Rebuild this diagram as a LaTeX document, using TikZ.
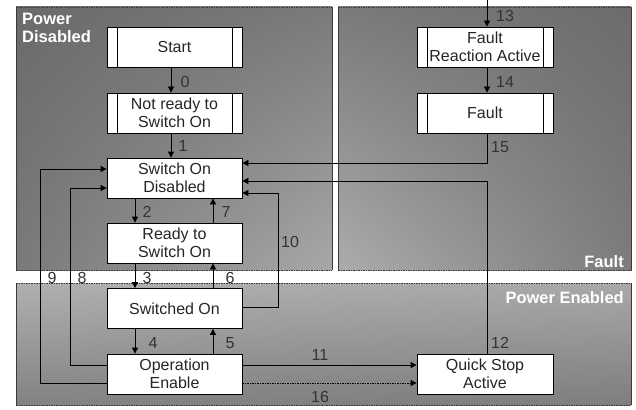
\documentclass[tikz,border=0pt]{standalone}
\usepackage{fontspec}
\setmainfont{Liberation Sans}
\usetikzlibrary{arrows.meta,calc,shadings}
\definecolor{pdUL}{HTML}{6A6A6A}
\definecolor{pdUR}{HTML}{7A7A7A}
\definecolor{pdLL}{HTML}{7A7A7A}
\definecolor{pdLR}{HTML}{A8A8A8}
\definecolor{fUL}{HTML}{7A7A7A}
\definecolor{fUR}{HTML}{6C6C6C}
\definecolor{fLL}{HTML}{ACACAC}
\definecolor{fLR}{HTML}{7C7C7C}
\definecolor{peUL}{HTML}{B0B0B0}
\definecolor{peUR}{HTML}{A8A8A8}
\definecolor{peLL}{HTML}{828282}
\definecolor{peLR}{HTML}{7E7E7E}
\definecolor{edge}{HTML}{3A3A3A}
\begin{document}
\begin{tikzpicture}[x=1pt,y=-1pt,
  state/.style={draw=black,line width=0.8pt,fill=white,minimum width=135pt,minimum height=40pt,
    inner sep=0pt,align=center,font=\fontsize{16}{18.5}\selectfont,text=black!85},
  framed/.style={state,path picture={
    \draw[line width=0.8pt] ([xshift=10pt]path picture bounding box.north west) -- ([xshift=10pt]path picture bounding box.south west);
    \draw[line width=0.8pt] ([xshift=-10pt]path picture bounding box.north east) -- ([xshift=-10pt]path picture bounding box.south east);}},
  conn/.style={line width=0.8pt,-{Triangle[length=6pt,width=6pt]}},
  dots/.style={dash pattern=on 1.5pt off 1pt},
  num/.style={font=\fontsize{16}{18}\selectfont,text=black!80,inner sep=0pt},
  ptitle/.style={font=\bfseries\fontsize{16.5}{19}\selectfont,text=white,inner sep=0pt,align=left},
  pside/.style={draw=edge,line width=0.8pt},
  ptop/.style={draw=edge,line width=0.8pt,dots}]
\useasboundingbox (0,0) rectangle (636,409);
\fill[white] (0,0) rectangle (636,409);
% panels
\shade[upper left=pdUL,upper right=pdUR,lower left=pdLL,lower right=pdLR] (16,7) rectangle (332,270);
\shade[upper left=fUL,upper right=fUR,lower left=fLL,lower right=fLR] (338,7) rectangle (631,270);
\shade[upper left=peUL,upper right=peUR,lower left=peLL,lower right=peLR] (16,283) rectangle (631,405);
\foreach \a/\b/\c/\d in {16/7/332/270,338/7/631/270,16/283/631/405}{
  \draw[ptop] (\a,\b) -- (\c,\b);
  \draw[ptop] (\a,\d) -- (\c,\d);
  \draw[pside] (\a,\b) -- (\a,\d);
  \draw[pside] (\c,\b) -- (\c,\d);
}
\node[ptitle,anchor=north west] (tpd) at (22,13) {Power\\[-1pt]Disabled};
\node[ptitle,anchor=east] (tf) at (624,262) {Fault};
\node[ptitle,anchor=east] (tpe) at (624,298) {Power Enabled};
% states
\node[framed] (start) at (174.5,47) {Start};
\node[framed] (nr) at (174.5,113) {Not ready to\\Switch On};
\node[state] (sod) at (174.5,178) {Switch On\\Disabled};
\node[state] (rtso) at (174.5,243) {Ready to\\Switch On};
\node[state] (swon) at (174.5,308.5) {Switched On};
\node[state] (oe) at (174.5,374) {Operation\\Enable};
\node[framed,minimum width=136pt] (fra) at (485,47) {Fault\\Reaction Active};
\node[framed,minimum width=136pt] (fault) at (485,113) {Fault};
\node[state,minimum width=136pt] (qsa) at (485,374) {Quick Stop\\Active};
% columns and bends
\coordinate (cA) at (171,0);
\coordinate (cD) at (135,0);
\coordinate (cU) at (213,0);
\coordinate (cR) at (487,0);
\coordinate (top13) at (487,0);
\coordinate (b8a) at (70,365);
\coordinate (b8b) at (70,188);
\coordinate (b9a) at (40.5,383);
\coordinate (b9b) at (40.5,169);
\coordinate (b10a) at (278,307);
\coordinate (b10b) at (278,193);
\coordinate (b12) at (487,181);
\coordinate (b15) at (487,163);
\coordinate (y11) at (300,365);
\coordinate (y16) at (300,383);
% connectors
\draw[conn] (start.south -| cA) -- (nr.north -| cA);
\draw[conn] (nr.south -| cA) -- (sod.north -| cA);
\draw[conn] (sod.south -| cD) -- (rtso.north -| cD);
\draw[conn] (rtso.north -| cU) -- (sod.south -| cU);
\draw[conn] (rtso.south -| cD) -- (swon.north -| cD);
\draw[conn] (swon.north -| cU) -- (rtso.south -| cU);
\draw[conn] (swon.south -| cD) -- (oe.north -| cD);
\draw[conn] (oe.north -| cU) -- (swon.south -| cU);
\draw[conn] (oe.west |- b8a) -- (b8a) -- (b8b) -- (sod.west |- b8b);
\draw[conn] (oe.west |- b9a) -- (b9a) -- (b9b) -- (sod.west |- b9b);
\draw[conn] (swon.east |- b10a) -- (b10a) -- (b10b) -- (sod.east |- b10b);
\draw[conn] (oe.east |- y11) -- (qsa.west |- y11);
\draw[conn,dots] (oe.east |- y16) -- (qsa.west |- y16);
\draw[conn] (qsa.north -| cR) -- (b12) -- (sod.east |- b12);
\draw[conn] (fault.south -| cR) -- (b15) -- (sod.east |- b15);
\draw[conn] (top13) -- (fra.north -| cR);
\draw[conn] (fra.south -| cR) -- (fault.north -| cR);
% labels
\node[num] (l0) at (185,82) {0};
\node[num] (l1) at (183,146) {1};
\node[num] (l2) at (147,212) {2};
\node[num] (l7) at (226,212) {7};
\node[num] (l3) at (147,278) {3};
\node[num] (l6) at (230,278) {6};
\node[num] (l9) at (52,278) {9};
\node[num] (l8) at (82,278) {8};
\node[num] (l4) at (153,343) {4};
\node[num] (l5) at (230,343) {5};
\node[num] (l10) at (290,242) {10};
\node[num] (l11) at (320,355) {11};
\node[num] (l16) at (320,397) {16};
\node[num] (l12) at (500,343) {12};
\node[num] (l15) at (500,147) {15};
\node[num] (l13) at (505,16) {13};
\node[num] (l14) at (505,82) {14};
\end{tikzpicture}
\end{document}
